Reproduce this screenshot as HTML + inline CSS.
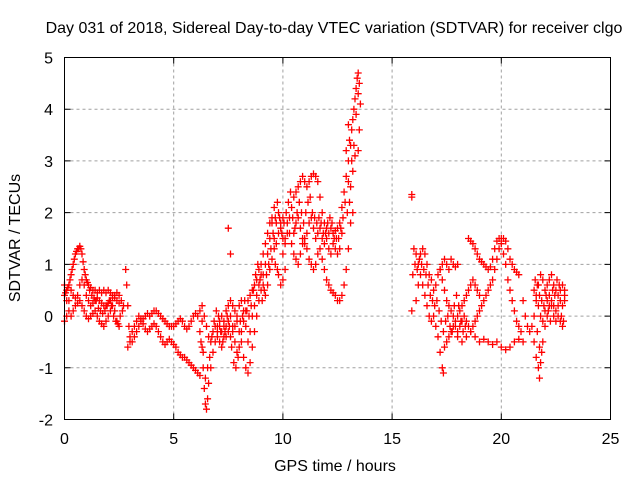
<!DOCTYPE html>
<html><head><meta charset="utf-8"><style>
body{margin:0;background:#fff;}
svg{display:block;font-family:"Liberation Sans",sans-serif;}
</style></head><body>
<svg id="chart" width="640" height="480" viewBox="0 0 640 480" xmlns="http://www.w3.org/2000/svg">
<text x="334" y="33" font-size="16" text-anchor="middle" fill="#000">Day 031 of 2018, Sidereal Day-to-day VTEC variation (SDTVAR) for receiver clgo</text>
<text x="335" y="471" font-size="16" text-anchor="middle">GPS time / hours</text>
<text transform="translate(20,238) rotate(-90)" font-size="16" text-anchor="middle">SDTVAR / TECUs</text>
<g id="grid"></g>
<g id="ticks"></g>
<g id="marks"></g>
<rect x="64.5" y="57.5" width="546" height="362" fill="none" stroke="#000" stroke-width="1"/>
</svg>
<script>
const xTicks=[0,5,10,15,20,25];
const yTicks=[-2,-1,0,1,2,3,4,5];
const trackA=[[0,0.4],[0.1,0.5],[0.2,0.6],[0.3,0.8],[0.4,1.0],[0.5,1.2],[0.6,1.3],[0.7,1.35],[0.8,1.2],[0.9,0.9],[1.0,0.7],[1.1,0.6],[1.2,0.55],[1.3,0.5],[1.4,0.5],[1.5,0.45],[1.6,0.5],[1.7,0.45],[1.8,0.5],[1.9,0.45],[2.0,0.5],[2.1,0.45],[2.2,0.4],[2.3,0.35],[2.4,0.3],[2.5,0.25],[2.6,0.3],[2.7,0.2]];
const trackB=[[0,0.6],[0.1,0.3],[0.2,0.1],[0.3,0.0],[0.4,0.1],[0.5,0.2],[0.6,0.25],[0.7,0.3],[0.8,0.2],[0.9,0.1],[1.0,0.0],[1.1,-0.05],[1.2,0.0],[1.3,0.05],[1.4,0.1],[1.5,0.0],[1.6,-0.1],[1.7,-0.15],[1.8,-0.2],[1.9,-0.1],[2.0,0.0],[2.1,0.1],[2.2,0.2],[2.3,0.1],[2.4,-0.1],[2.5,-0.2]];
const trackB2=[[0,-0.1],[0.1,0.0],[0.2,0.3],[0.3,0.5],[0.4,0.4],[0.5,0.35],[0.6,0.4],[0.7,0.6],[0.8,0.7],[0.9,0.6],[1.0,0.4],[1.1,0.3],[1.2,0.2],[1.3,0.25],[1.4,0.3],[1.5,0.35],[1.6,0.3],[1.7,0.25],[1.8,0.2],[1.9,0.2],[2.0,0.25],[2.1,0.3],[2.2,0.35],[2.3,0.4],[2.4,0.45],[2.5,0.4]];
const trackX=[[0.05,0.45],[0.15,0.55],[0.25,0.7],[0.35,0.9],[0.45,1.1],[0.55,1.25],[0.65,1.3],[0.75,1.3],[0.85,1.05],[0.95,0.8],[1.05,0.65],[1.15,0.5],[1.25,0.4],[1.35,0.35],[1.45,0.3],[1.55,0.15],[1.65,0.1],[1.75,0.05],[1.85,0.1],[1.95,0.2],[2.05,0.3],[2.15,0.2],[2.25,0.0],[2.35,-0.1],[2.45,-0.15],[2.55,0.0],[2.65,0.1]];
const trackC=[[2.8,0.9],[2.85,0.6],[2.9,0.2],[2.95,-0.2],[3.0,-0.4],[3.1,-0.5],[3.2,-0.4],[3.3,-0.3],[3.4,-0.2],[3.5,-0.1],[3.6,-0.05],[3.7,0.0],[3.8,0.05],[3.9,0.0],[4.0,0.05],[4.1,0.1],[4.2,0.1],[4.3,0.05],[4.4,0.0],[4.5,-0.05],[4.6,-0.1],[4.7,-0.15],[4.8,-0.2],[4.9,-0.2],[5.0,-0.2],[5.1,-0.15],[5.2,-0.1],[5.3,-0.05],[5.4,-0.1],[5.5,-0.2],[5.6,-0.25],[5.7,-0.2],[5.8,-0.1],[5.9,0.0],[6.0,0.05],[6.1,0.0],[6.2,0.1],[6.3,0.2]];
const trackD=[[2.9,-0.6],[3.0,-0.5],[3.1,-0.3],[3.2,-0.2],[3.3,-0.1],[3.4,0.0],[3.5,-0.05],[3.6,-0.15],[3.7,-0.25],[3.8,-0.3],[3.9,-0.25],[4.0,-0.2],[4.1,-0.15],[4.2,-0.2],[4.3,-0.3],[4.4,-0.4],[4.5,-0.5],[4.6,-0.55],[4.7,-0.5],[4.8,-0.45],[4.9,-0.5],[5.0,-0.55],[5.1,-0.6],[5.2,-0.7],[5.3,-0.75],[5.4,-0.8],[5.5,-0.8],[5.6,-0.85],[5.7,-0.9],[5.8,-0.95],[5.9,-1.0],[6.0,-1.05],[6.1,-1.1],[6.2,-1.15]];
const trackE=[[6.3,-0.6],[6.35,-1.0],[6.4,-1.4],[6.45,-1.7],[6.5,-1.8],[6.55,-1.6],[6.6,-1.3],[6.7,-1.0],[6.8,-0.7],[6.9,-0.5],[7.0,-0.3],[7.1,-0.2],[7.2,-0.3],[7.3,-0.1],[7.4,0.1],[7.5,0.2],[7.6,0.3],[7.7,0.2],[7.8,0.1],[7.9,-0.1],[8.0,-0.3],[8.1,-0.5],[8.2,-0.8],[8.3,-1.0],[8.4,-1.1],[8.5,-0.9],[8.6,-0.6],[8.7,-0.3],[8.8,0.0],[8.9,0.3],[9.0,0.5],[9.1,0.8],[9.2,1.0],[9.3,1.2],[9.4,1.5],[9.5,1.8],[9.6,2.1]];
const trackF=[[6.2,-0.3],[6.3,-0.1],[6.4,0.0],[6.5,-0.2],[6.6,-0.4],[6.7,-0.5],[6.8,-0.3],[6.9,-0.2],[7.0,-0.4],[7.1,-0.5],[7.2,-0.6],[7.3,-0.4],[7.4,-0.2],[7.5,-0.3],[7.6,-0.4],[7.7,-0.3],[7.8,-0.2],[7.9,0.0],[8.0,0.2],[8.1,0.3],[8.2,0.1],[8.3,-0.2],[8.4,-0.5],[8.5,-0.3],[8.6,0.0],[8.7,0.2],[8.8,0.4],[8.9,0.6],[9.0,0.8],[9.1,0.6],[9.2,0.4],[9.3,0.6],[9.4,0.9],[9.5,1.1],[9.6,1.3],[9.7,1.4],[9.8,1.6],[9.9,1.8],[10.0,1.9]];
const trackG=[[7.0,-0.2],[7.1,-0.1],[7.2,0.0],[7.3,-0.2],[7.4,-0.4],[7.5,-0.1],[7.6,0.0],[7.7,-0.2],[7.8,-0.5],[7.9,-0.7],[8.0,-0.6],[8.1,-0.3],[8.2,-0.1],[8.3,0.1],[8.4,0.3],[8.5,0.4],[8.6,0.5],[8.7,0.6],[8.8,0.7],[8.9,0.9],[9.0,1.0],[9.1,1.2],[9.2,1.4],[9.3,1.6],[9.4,1.8],[9.5,1.9],[7.5,1.7],[7.6,1.2],[9.8,0.8],[9.9,0.6],[10.0,0.7],[10.1,0.9]];
const trackU=[[6.25,-0.5],[6.35,-0.7],[6.45,-1.2],[6.55,-1.0],[6.65,-0.8],[6.75,-0.4],[6.85,-0.1],[6.95,0.1],[7.05,0.0],[7.15,-0.3],[7.25,-0.5],[7.35,-0.3],[7.45,0.0],[7.55,-0.2],[7.65,-0.6],[7.75,-0.9],[7.85,-1.0],[7.95,-0.8],[8.05,-0.1],[8.15,0.0],[8.25,0.3],[8.35,0.1],[8.45,0.0],[8.55,0.2],[8.65,0.5],[8.75,0.8],[8.85,1.0],[8.95,0.7],[9.05,0.3],[9.15,0.5],[9.25,0.8],[9.35,1.0],[9.45,1.3],[9.55,1.6],[9.65,1.0],[9.75,0.9]];
const trackH=[[9.6,1.5],[9.7,1.8],[9.8,2.0],[9.9,1.7],[10.0,1.5],[10.1,1.4],[10.2,1.6],[10.3,1.9],[10.4,2.1],[10.5,2.3],[10.6,2.4],[10.7,2.5],[10.8,2.6],[10.9,2.7],[11.0,2.6],[11.1,2.5],[11.2,2.6],[11.3,2.7],[11.4,2.75],[11.5,2.7],[11.6,2.6],[11.7,2.3],[11.8,2.0],[11.9,1.8],[12.0,1.7],[12.1,1.6],[12.2,1.7],[12.3,1.6],[12.4,1.65],[12.5,1.7]];
const trackI=[[10.0,1.2],[10.1,1.5],[10.2,1.8],[10.3,1.6],[10.4,1.4],[10.5,1.6],[10.6,1.8],[10.7,1.9],[10.8,1.7],[10.9,1.5],[11.0,1.4],[11.1,1.6],[11.2,1.8],[11.3,1.9],[11.4,1.7],[11.5,1.5],[11.6,1.6],[11.7,1.7],[11.8,1.5],[11.9,1.4],[12.0,1.5],[12.1,1.3],[12.2,1.2],[12.3,1.4],[12.4,1.3],[12.5,1.2],[12.6,1.3],[12.7,1.6]];
const trackT=[[9.65,1.9],[9.75,2.2],[9.85,1.9],[9.95,1.6],[10.05,1.8],[10.15,2.0],[10.25,2.2],[10.35,2.4],[10.45,1.9],[10.55,1.7],[10.65,2.0],[10.75,2.2],[10.85,2.0],[10.95,1.8],[11.05,2.0],[11.15,2.2],[11.25,2.3],[11.35,2.0],[11.45,1.9],[11.55,1.8],[11.65,1.9],[11.75,1.8],[11.85,1.6],[11.95,1.6],[12.05,1.8],[12.15,1.9],[12.25,1.8],[12.35,1.5],[12.45,1.5],[12.55,1.5],[12.65,1.7],[12.75,1.9]];
const trackJ=[[10.5,1.2],[10.6,1.1],[10.7,1.0],[10.8,1.2],[10.9,1.4],[11.0,1.5],[11.1,1.3],[11.2,1.1],[11.3,1.0],[11.4,0.9],[11.5,1.0],[11.6,1.2],[11.7,1.3],[11.8,1.1],[11.9,0.9],[12.0,0.7],[12.1,0.6],[12.2,0.5],[12.3,0.45],[12.4,0.4],[12.5,0.3],[12.6,0.3],[12.7,0.4],[12.8,0.6],[12.9,0.9],[13.0,1.3],[13.1,1.8],[13.2,2.0]];
const trackK=[[12.6,1.8],[12.7,2.1],[12.8,2.4],[12.9,2.7],[13.0,3.0],[13.1,3.3],[13.15,3.6],[13.2,3.8],[13.25,4.0],[13.3,4.2],[13.35,4.4],[13.4,4.6],[13.45,4.7],[13.5,3.6],[13.45,3.2],[13.3,3.1],[13.2,2.8],[13.1,2.5],[13.0,2.6],[12.9,3.2],[13.0,3.7],[13.05,3.4],[13.15,3.0],[13.25,3.3],[13.35,3.9],[13.45,4.3],[13.5,4.5],[13.55,4.1],[12.85,2.2],[12.95,2.0],[13.05,2.2]];
const trackL=[[15.9,2.35],[15.9,2.3],[15.9,0.1],[15.95,0.8],[16.0,1.3],[16.1,1.2],[16.2,1.0],[16.3,0.8],[16.4,0.6],[16.5,0.4],[16.6,0.2],[16.7,0.0],[16.8,-0.1],[16.9,0.0],[17.0,-0.2],[17.1,-0.4],[17.2,-0.7],[17.3,-1.0],[17.35,-1.1]];
const trackM=[[16.1,0.3],[16.2,0.6],[16.3,1.2],[16.4,1.3],[16.5,1.2],[16.6,1.0],[16.7,0.8],[16.8,0.7],[16.9,0.5],[17.0,0.6],[17.1,0.8],[17.2,0.9],[17.3,0.7],[17.4,0.5],[17.5,0.3],[17.6,0.2],[17.7,0.1],[17.8,0.0],[17.9,-0.1],[18.0,0.0],[18.1,0.1],[18.2,0.2],[18.3,0.3],[18.4,0.4],[18.5,0.5],[18.6,0.6],[18.7,0.7],[18.8,0.6],[18.9,0.5],[19.0,0.4]];
const trackV=[[16.05,1.0],[16.15,0.9],[16.25,1.1],[16.35,1.0],[16.45,0.9],[16.55,0.8],[16.65,0.6],[16.75,0.4],[16.85,0.3],[16.95,0.2],[17.05,0.3],[17.15,0.1],[17.25,-0.1],[17.35,-0.3],[17.45,-0.1],[17.55,0.0],[17.65,-0.2],[17.75,-0.3],[17.85,0.2],[17.95,0.4],[18.05,0.2],[18.15,-0.1],[18.25,-0.3],[18.35,-0.2]];
const trackN=[[17.4,-0.6],[17.5,-0.5],[17.6,-0.4],[17.7,-0.3],[17.8,-0.2],[17.9,-0.2],[18.0,-0.3],[18.1,-0.2],[18.2,-0.1],[18.3,0.0],[18.4,-0.1],[18.5,-0.2],[18.6,-0.3],[18.7,-0.2],[18.8,-0.1],[18.9,0.0],[19.0,0.1],[19.1,0.2],[19.2,0.3],[19.3,0.4],[19.4,0.5],[19.5,0.6],[19.6,0.7],[19.7,0.9],[19.8,1.1],[19.9,1.3],[20.0,1.4],[20.1,1.2],[20.2,1.0],[20.3,0.7],[20.4,0.5],[20.5,0.3],[20.6,0.1],[20.7,-0.1],[20.8,-0.2],[20.9,-0.3]];
const trackO=[[17.2,0.9],[17.3,1.0],[17.4,1.1],[17.5,1.0],[17.6,0.9],[17.7,1.1],[17.8,1.0],[17.9,0.95],[18.0,1.0],[18.5,1.5],[18.6,1.45],[18.7,1.4],[18.8,1.3],[18.9,1.2],[19.0,1.1],[19.1,1.05],[19.2,1.0],[19.3,0.95],[19.4,0.9],[19.5,0.95],[19.6,1.1],[19.7,1.3],[19.8,1.45],[19.9,1.5],[20.0,1.5],[20.1,1.5],[20.2,1.45],[20.3,1.3],[20.4,1.1],[20.5,1.0],[20.6,0.9],[20.7,0.85],[20.8,0.8]];
const trackP=[[18.0,-0.4],[18.2,-0.5],[18.4,-0.4],[18.6,-0.3],[18.8,-0.4],[19.0,-0.5],[19.2,-0.45],[19.4,-0.5],[19.6,-0.55],[19.8,-0.5],[20.0,-0.6],[20.2,-0.65],[20.4,-0.6],[20.6,-0.5],[20.8,-0.45],[21.0,-0.5]];
const trackQ=[[21.0,0.3],[21.1,0.0],[21.2,-0.2],[21.3,-0.3],[21.4,-0.2],[21.5,0.0],[21.6,0.3],[21.7,0.6],[21.8,0.8],[21.9,0.7],[22.0,0.5],[22.1,0.6],[22.2,0.7],[22.3,0.8],[22.4,0.6],[22.5,0.5],[22.6,0.4],[22.7,0.3],[22.8,0.2]];
const trackR=[[21.5,-0.5],[21.6,-0.8],[21.7,-1.0],[21.75,-1.2],[21.8,-0.9],[21.9,-0.5],[22.0,-0.2],[22.1,0.0],[22.2,0.2],[22.3,0.3],[22.4,0.2],[22.5,0.1],[22.6,0.0],[22.7,-0.1],[22.8,-0.2],[22.9,0.4]];
const trackS=[[21.5,0.5],[21.6,0.4],[21.7,0.2],[21.8,0.0],[21.9,-0.1],[22.0,0.1],[22.1,0.3],[22.2,0.4],[22.3,0.2],[22.4,0.0],[22.5,-0.1],[22.6,0.2],[22.7,0.5],[22.8,0.6],[22.9,0.3]];
const trackW=[[21.55,0.7],[21.65,0.6],[21.75,0.4],[21.85,0.3],[21.95,0.2],[22.05,0.4],[22.15,0.1],[22.25,-0.1],[22.35,0.5],[22.45,0.4],[22.55,0.7],[22.65,0.6],[22.75,0.0],[22.85,-0.1],[22.9,0.5],[21.65,-0.3],[21.75,-0.6],[21.85,-0.7]];

const L=64.5,R=610.5,T=57.5,B=419.5;
function xs(t){return L+(t-0)/(25-0)*(R-L);}
function ys(v){return B-(v-(-2))/(5-(-2))*(B-T);}
const NS='http://www.w3.org/2000/svg';
const grid=document.getElementById('grid'),ticks=document.getElementById('ticks'),marks=document.getElementById('marks');
function mk(tag,attrs,parent){const e=document.createElementNS(NS,tag);for(const k in attrs)e.setAttribute(k,attrs[k]);parent.appendChild(e);return e;}
xTicks.forEach(t=>{
  const x=xs(t);
  if(t>0&&t<25){const g=mk('line',{x1:x,x2:x,y1:T,y2:B,stroke:'#a0a0a0','stroke-dasharray':'3,3','stroke-width':1},grid);
  
  }
  const tk=mk('path',{d:`M${x} ${B}v-6M${x} ${T}v6`,stroke:'#000'},ticks);
  
  
  const lb=mk('text',{x:x,y:444,'font-size':16,'text-anchor':'middle'},ticks);lb.textContent=t;
  
  
});
yTicks.forEach(v=>{
  const y=ys(v);
  if(v>-2&&v<5){const g=mk('line',{x1:L,x2:R,y1:y,y2:y,stroke:'#a0a0a0','stroke-dasharray':'3,3','stroke-width':1},grid);
  
  }
  const tk=mk('path',{d:`M${L} ${y}h6M${R} ${y}h-6`,stroke:'#000'},ticks);
  
  
  const lb=mk('text',{x:53,y:y+6,'font-size':16,'text-anchor':'end'},ticks);lb.textContent=v;
  
  
});
const tracks=[trackA,trackB,trackB2,trackX,trackC,trackD,trackE,trackF,trackG,trackU,trackH,trackI,trackT,trackJ,trackK,trackL,trackM,trackV,trackN,trackO,trackP,trackQ,trackR,trackS,trackW];
tracks.forEach(tr=>{
  let d='';
  tr.forEach(p=>{const x=xs(p[0]),y=ys(p[1]);d+=`M${(x-3.5).toFixed(1)} ${y.toFixed(1)}h7M${x.toFixed(1)} ${(y-3.5).toFixed(1)}v7`;});
  const pth=mk('path',{d:d,stroke:'#ff0000','stroke-width':1.3,fill:'none'},marks);
  
  
});
</script>
</body></html>
